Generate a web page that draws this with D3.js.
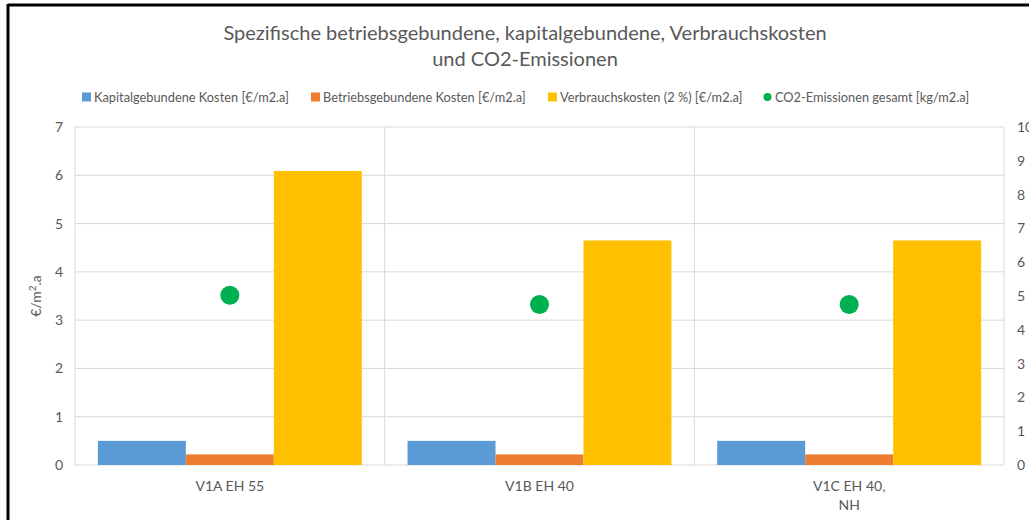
<!DOCTYPE html>
<html>
<head>
<meta charset="utf-8">
<script src="https://cdn.jsdelivr.net/npm/d3@7"></script>
<style>
  body { margin: 0; background: #fff; }
  text { font-family: Lato, "Open Sans", sans-serif; }
</style>
</head>
<body>
<svg id="chart" width="1029" height="520"></svg>
<script>
// data
var categories = ["V1A EH 55", "V1B EH 40", "V1C EH 40,\nNH"];
var seriesNames = ["Kapitalgebundene Kosten [€/m2.a]", "Betriebsgebundene Kosten [€/m2.a]", "Verbrauchskosten (2 %) [€/m2.a]"];
var kapital = [0.5, 0.5, 0.5];
var betrieb = [0.22, 0.22, 0.22];
var verbrauch = [6.09, 4.65, 4.65];
var co2 = [5.02, 4.75, 4.75];
var co2Name = "CO2-Emissionen gesamt [kg/m2.a]";
var leftTicks = [0, 1, 2, 3, 4, 5, 6, 7];
var rightTicks = [0, 1, 2, 3, 4, 5, 6, 7, 8, 9, 10];
var colors = ["#5b9bd5", "#ed7d31", "#ffc000"];
var co2Color = "#00b050";

var svg = d3.select("#chart");
var pl = 75, pr = 1004, pt = 127, pb = 465;

// outer frame (only top and left visible in the reference)
svg.append("line").attr("x1", 8).attr("x2", 1029).attr("y1", 5).attr("y2", 5)
  .attr("stroke", "#000").attr("stroke-width", 3);
svg.append("line").attr("x1", 8).attr("x2", 8).attr("y1", 4).attr("y2", 520)
  .attr("stroke", "#000").attr("stroke-width", 3);

var x0 = d3.scaleBand().domain(d3.range(categories.length)).range([pl, pr]);
var x1 = d3.scaleBand().domain([0, 1, 2]).range([0, x0.bandwidth()]).paddingOuter(0.26);
var yL = d3.scaleLinear().domain([0, 7]).range([pb, pt]);
var yR = d3.scaleLinear().domain([0, 10]).range([pb, pt]);

// gridlines
svg.append("g").selectAll("line").data(leftTicks).join("line")
  .attr("x1", pl).attr("x2", pr)
  .attr("y1", function(d) { return yL(d); }).attr("y2", function(d) { return yL(d); })
  .attr("stroke", "#d9d9d9").attr("stroke-width", 1);
svg.append("g").selectAll("line").data(d3.range(categories.length + 1)).join("line")
  .attr("x1", function(d) { return pl + d * x0.bandwidth(); })
  .attr("x2", function(d) { return pl + d * x0.bandwidth(); })
  .attr("y1", pt).attr("y2", pb)
  .attr("stroke", "#d9d9d9").attr("stroke-width", 1);

// bars
var series = [kapital, betrieb, verbrauch];
series.forEach(function(vals, s) {
  svg.append("g").selectAll("rect").data(vals).join("rect")
    .attr("x", function(d, i) { return x0(i) + x1(s); })
    .attr("width", x1.bandwidth())
    .attr("y", function(d) { return yL(d); })
    .attr("height", function(d) { return yL(0) - yL(d); })
    .attr("fill", colors[s]);
});

// co2 points
svg.append("g").selectAll("circle").data(co2).join("circle")
  .attr("cx", function(d, i) { return x0(i) + x0.bandwidth() / 2; })
  .attr("cy", function(d) { return yR(d); })
  .attr("r", 9.5)
  .attr("fill", co2Color);

// axes
var axL = svg.append("g").attr("transform", "translate(" + pl + ",0)")
  .call(d3.axisLeft(yL).tickValues(leftTicks).tickFormat(d3.format("d")).tickSize(0).tickPadding(12));
var axR = svg.append("g").attr("transform", "translate(" + pr + ",0)")
  .call(d3.axisRight(yR).tickValues(rightTicks).tickFormat(d3.format("d")).tickSize(0).tickPadding(13));
[axL, axR].forEach(function(a) {
  a.select(".domain").remove();
  a.selectAll("text").attr("fill", "#595959").style("font-size", "14px")
    .style("font-family", "Lato, sans-serif");
});

// category labels
categories.forEach(function(c, i) {
  var t = svg.append("text")
    .attr("x", x0(i) + x0.bandwidth() / 2).attr("y", 491)
    .attr("text-anchor", "middle").attr("fill", "#595959").style("font-size", "14px");
  c.split("\n").forEach(function(line, k) {
    t.append("tspan").attr("x", x0(i) + x0.bandwidth() / 2).attr("dy", k ? 19 : 0).text(line);
  });
});

// y-axis title
var yt = svg.append("text")
  .attr("transform", "translate(41,296) rotate(-90)")
  .attr("text-anchor", "middle").attr("fill", "#595959").style("font-size", "14px");
yt.append("tspan").text("€/m");
yt.append("tspan").attr("dy", -5).style("font-size", "10px").text("2");
yt.append("tspan").attr("dy", 5).text(".a");

// title
svg.append("text").attr("x", 525).attr("y", 40).attr("text-anchor", "middle")
  .attr("fill", "#595959").style("font-size", "20px")
  .text("Spezifische betriebsgebundene, kapitalgebundene, Verbrauchskosten");
svg.append("text").attr("x", 525).attr("y", 66).attr("text-anchor", "middle")
  .attr("fill", "#595959").style("font-size", "20px")
  .text("und CO2-Emissionen");

// legend
var legendItems = seriesNames.map(function(n, i) { return { name: n, color: colors[i], dot: false }; })
  .concat([{ name: co2Name, color: co2Color, dot: true }]);
var legendX = [82, 311, 548, 763];
var lg = svg.append("g");
legendItems.forEach(function(it, i) {
  var g = lg.append("g").attr("transform", "translate(" + legendX[i] + ",97)");
  if (it.dot) {
    g.append("circle").attr("cx", 4.5).attr("cy", 0).attr("r", 4).attr("fill", it.color);
  } else {
    g.append("rect").attr("x", 0).attr("y", -4.5).attr("width", 9).attr("height", 9).attr("fill", it.color);
  }
  g.append("text").attr("x", 12).attr("y", 4.5).attr("fill", "#595959")
    .style("font-size", "12.8px").text(it.name);
});
</script>
</body>
</html>
